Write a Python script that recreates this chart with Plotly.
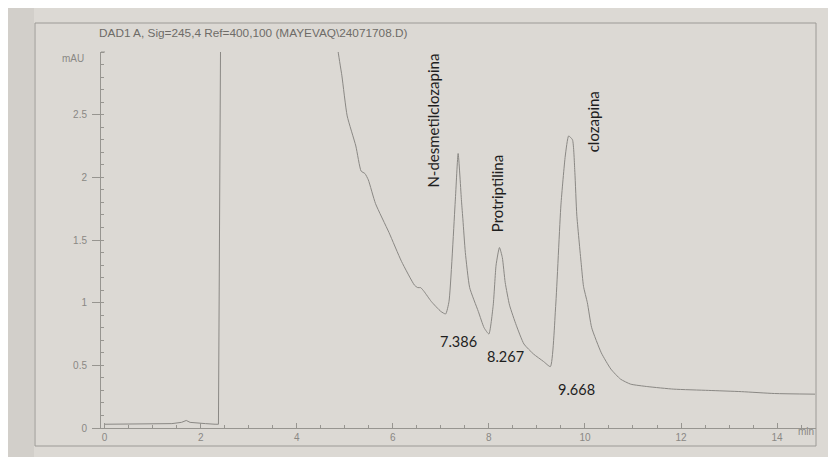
import plotly.graph_objects as go

# ---- data (time in min, signal in mAU) ----
time_min = [0.00, 0.50, 1.00, 1.40, 1.60, 1.70, 1.78, 1.90, 2.10, 2.30, 2.37, 2.42,
            4.83, 4.85, 4.94, 5.05, 5.23, 5.34, 5.42, 5.49, 5.64, 5.92, 6.18, 6.45, 6.52,
            6.58, 6.65, 6.80, 7.00, 7.10, 7.17, 7.30, 7.36, 7.43, 7.46, 7.51, 7.60, 7.78,
            7.90, 8.00, 8.09, 8.15, 8.22, 8.28, 8.34, 8.43, 8.57, 8.73, 8.93, 9.14, 9.28,
            9.39, 9.50, 9.59, 9.66, 9.74, 9.79, 9.83, 9.92, 9.97, 10.05, 10.14, 10.34,
            10.54, 10.74, 10.95, 11.31, 11.85, 12.57, 13.26, 13.95, 14.79]
signal_mau = [0.030, 0.030, 0.030, 0.035, 0.045, 0.060, 0.045, 0.040, 0.035, 0.030, 0.030, 3.50,
              3.50, 3.04, 2.81, 2.49, 2.25, 2.05, 2.03, 1.98, 1.79, 1.56, 1.33, 1.14, 1.12,
              1.12, 1.09, 1.01, 0.93, 0.91, 1.01, 1.81, 2.19, 1.81, 1.66, 1.40, 1.12, 0.93,
              0.80, 0.75, 0.98, 1.30, 1.44, 1.36, 1.16, 0.98, 0.82, 0.67, 0.59, 0.53, 0.49,
              0.97, 1.78, 2.17, 2.33, 2.30, 2.04, 1.70, 1.32, 1.13, 1.00, 0.80, 0.60,
              0.47, 0.39, 0.35, 0.33, 0.31, 0.30, 0.29, 0.275, 0.27]

compounds = ["N-desmetilclozapina", "Protriptilina", "clozapina"]
retention_labels = ["7.386", "8.267", "9.668"]

x_ticks = [0, 2, 4, 6, 8, 10, 12, 14]
y_ticks = [0, 0.5, 1, 1.5, 2, 2.5]
y_tick_text = ["0", "0.5", "1", "1.5", "2", "2.5"]

header = "DAD1 A, Sig=245,4 Ref=400,100 (MAYEVAQ\\24071708.D)"

# ---- layout geometry: targets given in screen pixels; the page body adds an 8px offset ----
OFF = 8
W, H = 836 - OFF, 457 - OFF
L, R, T, B = 101 - OFF, 836 - 816, 52 - OFF, 457 - 428
PW, PH = W - L - R, H - T - B


def px(x):
    return (x - OFF - L) / PW


def py(y):
    return (H - B - (y - OFF)) / PH


AXIS = "#979590"
PAPER = "#dcd9d4"
TICKF = dict(family="Liberation Sans, Arial, sans-serif", size=10, color="#8a8884")
INK = "#1e1e1e"
NAMEF = dict(family="Lato, 'Open Sans', sans-serif", size=15, color=INK)
RTF = dict(family="Lato, 'Open Sans', sans-serif", size=14.5, color=INK)
LINE = dict(color="#8a8884", width=1)

# split: baseline + solvent front drawn straight, the eluting part smoothed
split = next(i for i, t in enumerate(time_min) if t > 4.8)

fig = go.Figure()
fig.add_trace(go.Scatter(x=time_min[:split + 1], y=signal_mau[:split + 1], mode="lines",
                         line=LINE, hoverinfo="skip", showlegend=False))
fig.add_trace(go.Scatter(x=time_min[split:], y=signal_mau[split:], mode="lines",
                         line=dict(**LINE, shape="spline", smoothing=0.5),
                         hoverinfo="skip", showlegend=False))

# positions of the text labels (data coords)
name_pos = [(6.83, 2.45), (8.16, 1.87), (10.17, 2.44)]
rt_pos = [(7.36, 0.69), (8.34, 0.57), (9.82, 0.31)]

ann = []
for name, (xx, yy) in zip(compounds, name_pos):
    ann.append(dict(x=xx, y=yy, xref="x", yref="y", text=name, showarrow=False,
                    textangle=-90, font=NAMEF))
for lab, (xx, yy) in zip(retention_labels, rt_pos):
    ann.append(dict(x=xx, y=yy, xref="x", yref="y", text=lab, showarrow=False,
                    font=RTF))
ann.append(dict(x=px(97), y=py(33), xref="paper", yref="paper", text=header,
                showarrow=False, xanchor="left", yanchor="middle",
                font=dict(family="Liberation Sans, Arial, sans-serif", size=11.8, color="#6e6c68")))
ann.append(dict(x=px(86), y=py(58), xref="paper", yref="paper", text="mAU",
                showarrow=False, xanchor="right", yanchor="middle", font=TICKF))
ann.append(dict(x=px(816), y=py(431), xref="paper", yref="paper", text="min",
                showarrow=False, xanchor="right", yanchor="middle", font=TICKF))

shapes = [
    # slightly darker photo edge on the left
    dict(type="rect", xref="paper", yref="paper", x0=px(8), x1=px(34), y0=py(457), y1=py(8),
         line=dict(width=0), fillcolor="rgba(90,80,70,0.07)", layer="below"),
    # outer printed frame
    dict(type="rect", xref="paper", yref="paper", x0=px(35), x1=px(816), y0=py(446), y1=py(23),
         line=dict(color="#9c9a96", width=1), layer="below"),
    # small top tick of the mAU axis
    dict(type="line", xref="paper", yref="paper", x0=px(101), x1=px(105), y0=py(52), y1=py(52),
         line=dict(color=AXIS, width=1)),
]

fig.update_layout(
    width=W, height=H,
    margin=dict(l=L, r=R, t=T, b=B, pad=0),
    paper_bgcolor=PAPER, plot_bgcolor=PAPER,
    annotations=ann, shapes=shapes, showlegend=False,
    xaxis=dict(range=[-0.075, 14.81], tickvals=x_ticks, ticktext=[str(v) for v in x_ticks],
               showgrid=False, zeroline=False, showline=True, linecolor=AXIS, linewidth=1,
               ticks="inside", ticklen=5, tickcolor=AXIS, tickfont=TICKF,
               minor=dict(dtick=0.5, ticks="inside", ticklen=3, tickcolor=AXIS, showgrid=False),
               mirror=False, fixedrange=True),
    yaxis=dict(range=[0, 3.0], tickvals=y_ticks, ticktext=y_tick_text,
               showgrid=False, zeroline=False, showline=True, linecolor=AXIS, linewidth=1,
               ticks="outside", ticklen=8, tickcolor=AXIS, tickfont=TICKF, ticklabelstandoff=3,
               minor=dict(dtick=0.1, ticks="inside", ticklen=3, tickcolor=AXIS, showgrid=False),
               mirror=False, fixedrange=True),
)

fig.write_html("out.html")
